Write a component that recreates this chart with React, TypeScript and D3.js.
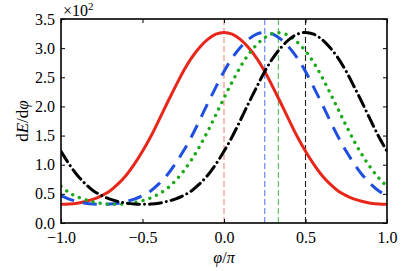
import { useEffect, useRef } from 'react'
import * as d3 from 'd3'

// phi / pi sample positions
const phi = [
  -1, -0.95, -0.9, -0.85, -0.8, -0.75, -0.7, -0.65, -0.6, -0.55, -0.5,
  -0.45, -0.4, -0.35, -0.3, -0.25, -0.2, -0.15, -0.1, -0.05, 0,
  0.05, 0.1, 0.15, 0.2, 0.25, 0.3, 0.35, 0.4, 0.45, 0.5,
  0.55, 0.6, 0.65, 0.7, 0.75, 0.8, 0.85, 0.9, 0.95, 1,
]

// dE/dphi in units of 10^2
const redSolid = [
  0.32, 0.325, 0.34, 0.37, 0.41, 0.47, 0.55, 0.67, 0.82, 1.01, 1.23,
  1.48, 1.76, 2.05, 2.33, 2.6, 2.83, 3.01, 3.15, 3.24, 3.27,
  3.24, 3.15, 3.01, 2.83, 2.6, 2.33, 2.05, 1.76, 1.48, 1.23,
  1.01, 0.82, 0.67, 0.55, 0.47, 0.41, 0.37, 0.34, 0.325, 0.32,
]
const blueDashed = [
  0.47, 0.41, 0.37, 0.34, 0.325, 0.32, 0.325, 0.34, 0.37, 0.41, 0.47,
  0.55, 0.67, 0.82, 1.01, 1.23, 1.48, 1.76, 2.05, 2.33, 2.6,
  2.83, 3.01, 3.15, 3.24, 3.27, 3.24, 3.15, 3.01, 2.83, 2.6,
  2.33, 2.05, 1.76, 1.48, 1.23, 1.01, 0.82, 0.67, 0.55, 0.47,
]
const greenDotted = [
  0.63, 0.52, 0.45, 0.4, 0.36, 0.335, 0.323, 0.322, 0.33, 0.35, 0.383,
  0.43, 0.497, 0.59, 0.72, 0.883, 1.083, 1.313, 1.573, 1.857, 2.143,
  2.42, 2.677, 2.89, 3.057, 3.18, 3.25, 3.26, 3.21, 3.103, 2.95,
  2.753, 2.51, 2.237, 1.953, 1.667, 1.397, 1.157, 0.947, 0.77, 0.63,
]
const blackDashDot = [
  1.23, 1.01, 0.82, 0.67, 0.55, 0.47, 0.41, 0.37, 0.34, 0.325, 0.32,
  0.325, 0.34, 0.37, 0.41, 0.47, 0.55, 0.67, 0.82, 1.01, 1.23,
  1.48, 1.76, 2.05, 2.33, 2.6, 2.83, 3.01, 3.15, 3.24, 3.27,
  3.24, 3.15, 3.01, 2.83, 2.6, 2.33, 2.05, 1.76, 1.48, 1.23,
]

// peak positions marked by the thin vertical lines
const peaks = [0, 0.25, 1 / 3, 0.5]

const xTicks = [-1, -0.5, 0, 0.5, 1]
const yTicks = [0, 0.5, 1, 1.5, 2, 2.5, 3, 3.5]

const series = [
  { values: redSolid, color: '#e8261a', width: 3, dash: null, cap: 'butt' },
  { values: blueDashed, color: '#1f4fe0', width: 3, dash: '14 9', cap: 'butt' },
  { values: greenDotted, color: '#1aaa1a', width: 3.4, dash: '0.01 7.2', cap: 'round' },
  { values: blackDashDot, color: '#000000', width: 3, dash: '12 5 0.01 5', cap: 'round' },
]
const vlineColors = ['#f08a80', '#5a80ee', '#55bb55', '#222222']

const FONT = "'Liberation Serif', 'DejaVu Serif', serif"

const App = () => {
  const svgRef = useRef<SVGSVGElement | null>(null)
  const W = 407
  const H = 271
  const margin = { top: 19, right: 20, bottom: 48, left: 61 }
  const width = W - margin.left - margin.right
  const height = H - margin.top - margin.bottom

  useEffect(() => {
    if (!svgRef.current) return
    const svg = d3.select(svgRef.current)
    svg.selectAll('*').remove()

    const g = svg
      .append('g')
      .attr('transform', `translate(${margin.left},${margin.top})`)

    const x = d3.scaleLinear().domain([-1, 1]).range([0, width])
    const y = d3.scaleLinear().domain([0, 3.5]).range([height, 0])

    g.append('clipPath')
      .attr('id', 'plot-clip')
      .append('rect')
      .attr('width', width)
      .attr('height', height)

    // vertical marker lines
    g.selectAll('line.vline')
      .data(peaks)
      .enter()
      .append('line')
      .attr('class', 'vline')
      .attr('x1', d => x(d))
      .attr('x2', d => x(d))
      .attr('y1', 0)
      .attr('y2', height)
      .attr('stroke', (_, i) => vlineColors[i])
      .attr('stroke-width', 1.1)
      .attr('stroke-dasharray', '6 3')

    // curves
    const line = d3
      .line<number>()
      .x((_, i) => x(phi[i]))
      .y(d => y(d))
      .curve(d3.curveCatmullRom.alpha(0.5))

    const curves = g.append('g').attr('clip-path', 'url(#plot-clip)')
    series.forEach(s => {
      const p = curves
        .append('path')
        .attr('d', line(s.values))
        .attr('fill', 'none')
        .attr('stroke', s.color)
        .attr('stroke-width', s.width)
        .attr('stroke-linecap', s.cap)
        .attr('stroke-linejoin', 'round')
      if (s.dash) p.attr('stroke-dasharray', s.dash)
    })

    // axes with inward ticks on all four sides
    const styleAxis = (sel: d3.Selection<SVGGElement, unknown, null, undefined>) => {
      sel.select('.domain').remove()
      sel.selectAll('.tick line').attr('stroke', '#000').attr('stroke-width', 1)
      sel.attr('font-family', FONT).attr('font-size', 16)
      sel.selectAll('.tick text').attr('fill', '#000')
    }

    g.append('g')
      .attr('transform', `translate(0,${height})`)
      .call(
        d3.axisBottom(x).tickValues(xTicks).tickSizeInner(-4).tickSizeOuter(0)
          .tickPadding(9).tickFormat(d3.format('.1f') as any)
      )
      .call(styleAxis)

    g.append('g')
      .call(d3.axisTop(x).tickValues(xTicks).tickSizeInner(-4).tickSizeOuter(0).tickFormat(() => ''))
      .call(styleAxis)

    g.append('g')
      .call(
        d3.axisLeft(y).tickValues(yTicks).tickSizeInner(-4).tickSizeOuter(0)
          .tickPadding(6).tickFormat(d3.format('.1f') as any)
      )
      .call(styleAxis)

    g.append('g')
      .attr('transform', `translate(${width},0)`)
      .call(d3.axisRight(y).tickValues(yTicks).tickSizeInner(-4).tickSizeOuter(0).tickFormat(() => ''))
      .call(styleAxis)

    // frame
    g.append('rect')
      .attr('width', width)
      .attr('height', height)
      .attr('fill', 'none')
      .attr('stroke', '#000')
      .attr('stroke-width', 1.6)

    // offset label
    const off = g.append('text')
      .attr('x', 2)
      .attr('y', -3)
      .attr('font-family', FONT)
      .attr('font-size', 16)
    off.append('tspan').text('×10')
    off.append('tspan').attr('dy', -6).attr('font-size', 11).text('2')

    // x label
    const xl = g.append('text')
      .attr('x', width / 2)
      .attr('y', height + 40)
      .attr('text-anchor', 'middle')
      .attr('font-family', FONT)
      .attr('font-size', 16)
    xl.append('tspan').attr('font-style', 'italic').text('φ')
    xl.append('tspan').text('/')
    xl.append('tspan').attr('font-style', 'italic').text('π')

    // y label
    const yl = g.append('text')
      .attr('transform', `translate(-33,${height / 2}) rotate(-90)`)
      .attr('text-anchor', 'middle')
      .attr('font-family', FONT)
      .attr('font-size', 17)
    yl.append('tspan').text('d')
    yl.append('tspan').attr('font-style', 'italic').text('E')
    yl.append('tspan').text('/d')
    yl.append('tspan').attr('font-style', 'italic').text('φ')
  }, [])

  return (
    <svg
      ref={svgRef}
      width={W}
      height={H}
      style={{ position: 'absolute', left: 0, top: 0, background: 'white' }}
    />
  )
}

export default App
